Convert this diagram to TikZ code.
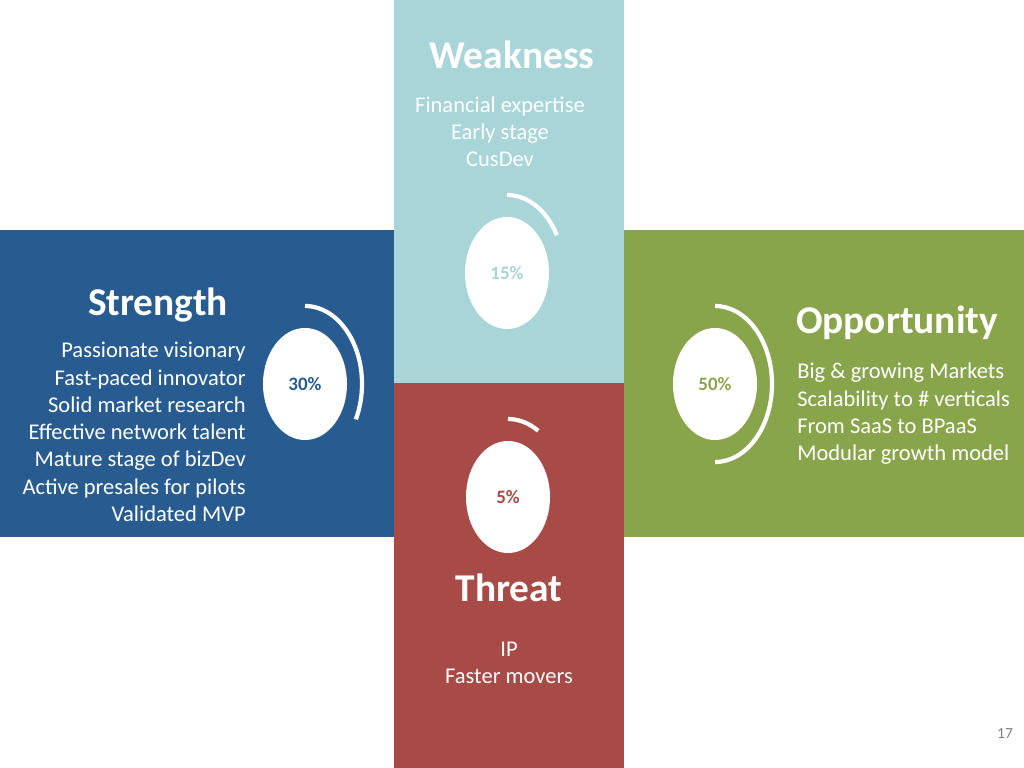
\documentclass[tikz,border=0pt]{standalone}
\usepackage{fontspec}
\setmainfont{Carlito}
\usetikzlibrary{shapes.geometric}
\definecolor{sblue}{HTML}{285C90}
\definecolor{wteal}{HTML}{A8D5D7}
\definecolor{ogreen}{HTML}{89A54B}
\definecolor{tred}{HTML}{A84A45}
\begin{document}
\begin{tikzpicture}[x=0.025cm, y=0.025cm,
    title/.style={text=white, font=\fontsize{28}{32}\selectfont\bfseries, inner sep=0pt},
    body/.style={text=white, font=\fontsize{16}{19.4}\selectfont, inner sep=0pt},
    pct/.style={ellipse, fill=white, minimum width=2.1cm, minimum height=2.8cm, inner sep=0pt,
        font=\fontsize{13.5}{16}\selectfont\bfseries},
    ring/.style={draw=white, line width=3pt}]
        \useasboundingbox (0,0) rectangle (1024,768);

        % the four blocks
        \fill[wteal] (394,385) rectangle (624,768);
        \fill[sblue] (0,231) rectangle (394,538);
        \fill[ogreen] (624,231) rectangle (1024,538);
        \fill[tred] (394,0) rectangle (624,385);

        % titles and points
        \node (W) [title] at (512,713) {Weakness};
        \node (Wtxt) [body, align=center] at (500,636) {Financial expertise\\Early stage\\CusDev};
        \node (S) [title] at (158,463) {Strength};
        \node (Stxt) [body, align=right, anchor=east] at (246,336) {Passionate visionary\\Fast-paced innovator\\Solid market research\\Effective network talent\\Mature stage of bizDev\\Active presales for pilots\\Validated MVP};
        \node (O) [title] at (897,445) {Opportunity};
        \node (Otxt) [body, align=left, anchor=west] at (797,354) {Big \& growing Markets\\Scalability to \# verticals\\From SaaS to BPaaS\\Modular growth model};
        \node (T) [title] at (509,180) {Threat};
        \node (Ttxt) [body, align=center] at (509,105) {IP\\Faster movers};

        % shares
        \node (pW) [pct, text=wteal] at (507,495) {15\%};
        \node (pS) [pct, text=sblue] at (305,384) {30\%};
        \node (pO) [pct, text=ogreen] at (715,384) {50\%};
        \node (pT) [pct, text=tred] at (508,271) {5\%};

        \draw[ring] ([yshift=1.95cm]pW.center) arc[start angle=90, end angle=29, x radius=1.425cm, y radius=1.95cm];
        \draw[ring] ([yshift=1.95cm]pS.center) arc[start angle=90, end angle=-27, x radius=1.425cm, y radius=1.95cm];
        \draw[ring] ([yshift=1.95cm]pO.center) arc[start angle=90, end angle=-90, x radius=1.425cm, y radius=1.95cm];
        \draw[ring] ([yshift=1.95cm]pT.center) arc[start angle=90, end angle=58, x radius=1.425cm, y radius=1.95cm];

        \node (page) [text=gray, font=\fontsize{11}{13}\selectfont] at (1005,34) {17};
\end{tikzpicture}
\end{document}
